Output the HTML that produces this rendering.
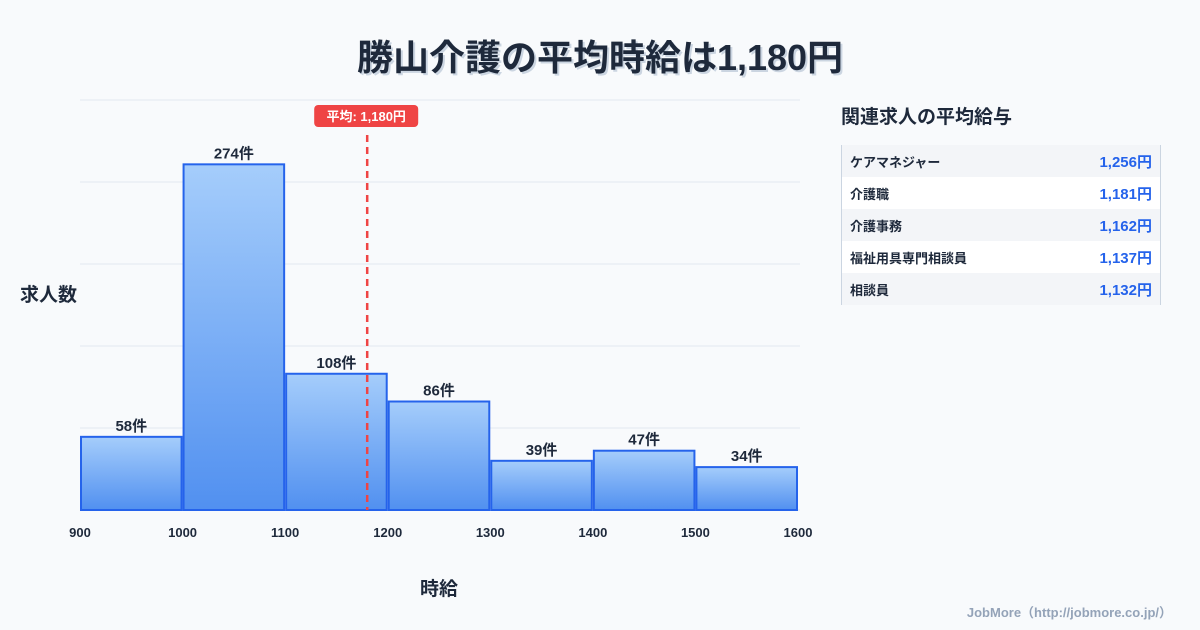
<!DOCTYPE html>
<html><head><meta charset="utf-8"><style>
body{margin:0;width:1200px;height:630px;background:#f8fafc;font-family:"Liberation Sans","Noto Sans CJK JP",sans-serif;position:relative;overflow:hidden;color:#1e293b}
.t{position:absolute;white-space:nowrap}
</style></head><body>
<div class="t" style="left:0;width:1200px;top:29px;text-align:center;font-size:36px;font-weight:bold;color:#1e293b;text-shadow:2px 2px 0 #cbd5e1">勝山介護の平均時給は1,180円</div>
<svg id="chart" width="1200" height="630" style="position:absolute;left:0;top:0">
<defs><linearGradient id="g" x1="0" y1="0" x2="0" y2="1"><stop offset="0" stop-color="#a5cdfb"/><stop offset="1" stop-color="#5190f0"/></linearGradient></defs>
</svg>
<div class="t" style="left:20px;top:280px;font-size:19px;font-weight:bold">求人数</div>
<div class="t" style="left:420px;top:574px;font-size:19px;font-weight:bold">時給</div>
<div class="t" style="left:841px;top:102px;font-size:19px;font-weight:bold;color:#1e293b">関連求人の平均給与</div>
<div style="position:absolute;left:841px;top:145px;width:318px;border-left:1px solid #cbd5e1;border-right:1px solid #cbd5e1;">
<div style="height:32px;background:#f3f5f8;display:flex;justify-content:space-between;align-items:center;padding:0 8px;font-size:13px;font-weight:bold"><span>ケアマネジャー</span><span style="color:#2563eb;font-size:15px">1,256円</span></div>
<div style="height:32px;background:#fff;display:flex;justify-content:space-between;align-items:center;padding:0 8px;font-size:13px;font-weight:bold"><span>介護職</span><span style="color:#2563eb;font-size:15px">1,181円</span></div>
<div style="height:32px;background:#f3f5f8;display:flex;justify-content:space-between;align-items:center;padding:0 8px;font-size:13px;font-weight:bold"><span>介護事務</span><span style="color:#2563eb;font-size:15px">1,162円</span></div>
<div style="height:32px;background:#fff;display:flex;justify-content:space-between;align-items:center;padding:0 8px;font-size:13px;font-weight:bold"><span>福祉用具専門相談員</span><span style="color:#2563eb;font-size:15px">1,137円</span></div>
<div style="height:32px;background:#f3f5f8;display:flex;justify-content:space-between;align-items:center;padding:0 8px;font-size:13px;font-weight:bold"><span>相談員</span><span style="color:#2563eb;font-size:15px">1,132円</span></div>
</div>
<div class="t" style="right:28px;top:602px;font-size:13px;font-weight:bold;color:#94a3b8">JobMore（http://jobmore.co.jp/）</div>
<script>
const binStarts=[900,1000,1100,1200,1300,1400,1500];
const counts=[58,274,108,86,39,47,34];
const xTicks=[900,1000,1100,1200,1300,1400,1500,1600];
const avg=1180;
const svg=document.getElementById('chart');
const NS='http://www.w3.org/2000/svg';
const x=v=>80+(v-900)*(718/700);
const y=v=>510-v*410/325;
function mk(t,a){const e=document.createElementNS(NS,t);for(const k in a)e.setAttribute(k,a[k]);svg.appendChild(e);return e;}
for(let i=0;i<=5;i++){const gy=510-i*82;
const l=mk('line',{x1:80,x2:800,y1:gy,y2:gy,stroke:'#e2e8f0','stroke-width':1});

}
binStarts.forEach((b,i)=>{
const x0=x(b)+1,x1=x(b+100)-1,top=y(counts[i]);
const r=mk('rect',{x:x0,y:top,width:x1-x0,height:510-top,fill:'url(#g)',stroke:'#2563eb','stroke-width':2});


const t=mk('text',{x:(x0+x1)/2,y:top-6,'text-anchor':'middle','font-size':15,'font-weight':'bold',fill:'#1e293b'});
t.textContent=counts[i]+'件';


});
xTicks.forEach(v=>{const t=mk('text',{x:x(v),y:537,'text-anchor':'middle','font-size':13,'font-weight':'bold',fill:'#1e293b'});
t.textContent=v;

});
const ax=x(avg);
const al=mk('line',{x1:ax,x2:ax,y1:135,y2:510,stroke:'#ef4444','stroke-width':2.5,'stroke-dasharray':'7,5'});


const ab=mk('rect',{x:ax-53,y:105,width:104,height:22,rx:4,fill:'#ef4444'});


const at=mk('text',{x:ax-1,y:121,'text-anchor':'middle','font-size':13,'font-weight':'bold',fill:'#fff'});
at.textContent='平均: 1,180円';


</script>
</body></html>
